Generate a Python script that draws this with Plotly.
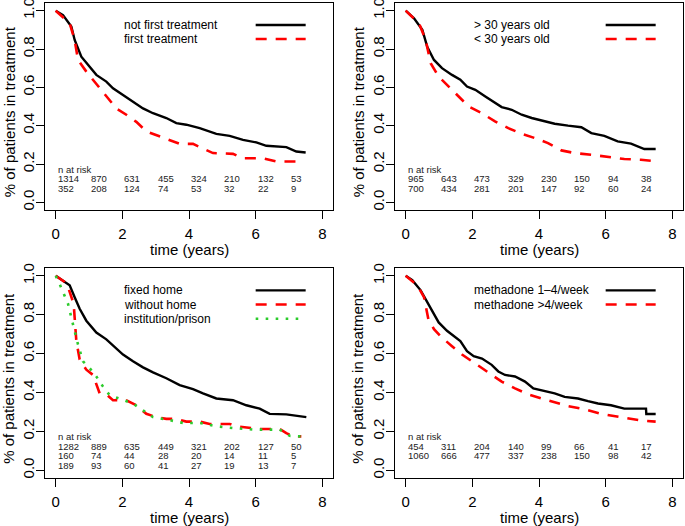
import plotly.graph_objects as go

# ---------------- data ----------------
risk_times = [0, 1, 2, 3, 4, 5, 6, 7]

# Panel 1: first treatment
p1_not_first_t = [0, 0.22, 0.47, 0.57, 0.77, 1.02, 1.22, 1.52, 1.72, 2.02, 2.32, 2.62, 2.92, 3.32,
                  3.62, 3.92, 4.32, 4.82, 5.22, 5.62, 6.02, 6.32, 6.92, 7.22, 7.5]
p1_not_first_s = [1.0, 0.977, 0.917, 0.847, 0.76, 0.71, 0.665, 0.63, 0.595, 0.56, 0.526, 0.49, 0.465,
                  0.44, 0.413, 0.405, 0.387, 0.357, 0.347, 0.326, 0.3125, 0.295, 0.288, 0.265, 0.26]
p1_first_t = [0, 0.42, 0.57, 0.67, 0.92, 1.22, 1.52, 1.82, 2.12, 2.42, 2.72, 3.12, 3.42, 3.72, 4.12,
              4.42, 4.72, 5.32, 5.62, 6.22, 6.62, 7.22]
p1_first_s = [1.0, 0.934, 0.847, 0.743, 0.682, 0.62, 0.552, 0.49, 0.457, 0.42, 0.37, 0.344, 0.326,
              0.305, 0.305, 0.283, 0.257, 0.253, 0.23, 0.23, 0.213, 0.213]
p1_risk_not_first = [1314, 870, 631, 455, 324, 210, 132, 53]
p1_risk_first = [352, 208, 124, 74, 53, 32, 22, 9]

# Panel 2: age
p2_over30_t = [0, 0.25, 0.5, 0.65, 0.85, 1.09, 1.39, 1.64, 1.84, 2.09, 2.39, 2.68, 2.88, 3.18, 3.48,
               3.78, 4.08, 4.47, 4.87, 5.27, 5.57, 5.96, 6.36, 6.76, 7.16, 7.5]
p2_over30_s = [1.0, 0.96, 0.9, 0.81, 0.743, 0.70, 0.665, 0.64, 0.604, 0.587, 0.552, 0.517, 0.497,
               0.483, 0.457, 0.44, 0.427, 0.41, 0.4, 0.392, 0.361, 0.347, 0.318, 0.306, 0.278, 0.278]
p2_under30_t = [0, 0.4, 0.6, 0.75, 0.99, 1.29, 1.59, 1.89, 2.29, 2.68, 3.08, 3.48, 3.88, 4.27, 4.67,
                5.07, 5.57, 6.06, 6.56, 7.06, 7.5]
p2_under30_s = [1.0, 0.934, 0.847, 0.726, 0.656, 0.604, 0.552, 0.5, 0.465, 0.422, 0.387, 0.358,
                0.335, 0.309, 0.271, 0.257, 0.248, 0.236, 0.226, 0.222, 0.214]
p2_risk_over30 = [965, 643, 473, 329, 230, 150, 94, 38]
p2_risk_under30 = [700, 434, 281, 201, 147, 92, 60, 24]

# Panel 3: housing
p3_fixed_t = [0, 0.42, 0.57, 0.72, 0.92, 1.22, 1.52, 1.77, 2.02, 2.32, 2.62, 2.92, 3.32, 3.72, 4.12,
              4.42, 4.82, 5.32, 5.72, 6.12, 6.42, 6.92, 7.32, 7.52]
p3_fixed_s = [1.0, 0.951, 0.89, 0.83, 0.769, 0.708, 0.673, 0.633, 0.595, 0.56, 0.529, 0.503, 0.473,
              0.438, 0.417, 0.395, 0.369, 0.36, 0.334, 0.317, 0.29, 0.287, 0.278, 0.273]
p3_nohome_t = [0, 0.27, 0.37, 0.54, 0.62, 0.72, 0.92, 1.12, 1.32, 1.52, 1.72, 2.12, 2.42, 2.72, 3.02,
               3.32, 3.62, 3.92, 4.32, 4.62, 5.22, 5.42, 6.12, 6.72, 6.92, 7.12, 7.37]
p3_nohome_s = [1.0, 0.969, 0.943, 0.856, 0.664, 0.569, 0.517, 0.49, 0.395, 0.39, 0.36, 0.36, 0.334,
               0.29, 0.273, 0.264, 0.264, 0.25, 0.25, 0.238, 0.238, 0.226, 0.212, 0.212, 0.191,
               0.174, 0.174]
p3_inst_t = [0, 0.07, 0.22, 0.37, 0.52, 0.67, 0.82, 1.02, 1.22, 1.42, 1.62, 1.92, 2.32, 2.62, 2.92,
             3.32, 3.82, 4.32, 4.82, 5.32, 5.92, 6.72, 7.02, 7.37]
p3_inst_s = [1.0, 0.977, 0.917, 0.856, 0.75, 0.647, 0.56, 0.525, 0.482, 0.43, 0.386, 0.369, 0.343,
             0.308, 0.273, 0.261, 0.243, 0.243, 0.226, 0.217, 0.209, 0.209, 0.177, 0.174]
p3_risk_fixed = [1282, 889, 635, 449, 321, 202, 127, 50]
p3_risk_nohome = [160, 74, 44, 28, 20, 14, 11, 5]
p3_risk_inst = [189, 93, 60, 41, 27, 19, 13, 7]

# Panel 4: methadone frequency
p4_low_t = [0, 0.2, 0.45, 0.65, 0.8, 0.99, 1.24, 1.39, 1.64, 1.84, 2.04, 2.29, 2.58, 2.78, 2.98,
            3.28, 3.58, 3.83, 4.08, 4.47, 4.77, 5.17, 5.47, 5.77, 6.16, 6.56, 7.21, 7.22, 7.5]
p4_low_s = [1.0, 0.977, 0.925, 0.864, 0.812, 0.76, 0.717, 0.696, 0.664, 0.612, 0.586, 0.574, 0.542,
            0.508, 0.49, 0.482, 0.456, 0.421, 0.412, 0.395, 0.377, 0.369, 0.355, 0.343, 0.334,
            0.317, 0.317, 0.289, 0.289]
p4_high_t = [0, 0.35, 0.55, 0.68, 0.85, 1.09, 1.39, 1.69, 1.99, 2.29, 2.58, 2.88, 3.28, 3.68, 4.08,
             4.47, 4.87, 5.37, 5.86, 6.46, 7.06, 7.5]
p4_high_s = [1.0, 0.951, 0.89, 0.777, 0.725, 0.682, 0.638, 0.595, 0.56, 0.525, 0.49, 0.456, 0.421,
             0.39, 0.369, 0.351, 0.33, 0.313, 0.29, 0.273, 0.256, 0.25]
p4_risk_low = [454, 311, 204, 140, 99, 66, 41, 17]
p4_risk_high = [1060, 666, 477, 337, 238, 150, 98, 42]

x_ticks = [0, 2, 4, 6, 8]
y_ticks = [0.0, 0.2, 0.4, 0.6, 0.8, 1.0]
y_tick_text = ["0.0", "0.2", "0.4", "0.6", "0.8", "1.0"]

# ---------------- styling ----------------
W, H = 685, 526
FONT = "Liberation Sans, Arial, Helvetica, sans-serif"
BLACK = "#000000"
RED = "#ff0000"
GREEN = "#2ccb2c"
STY_SOLID = dict(color=BLACK, width=2.4)
STY_DASH = dict(color=RED, width=2.6, dash="11px,9px")
STY_DOT = dict(color=GREEN, width=2.6, dash="2.6px,7.4px")

# panel pixel boxes: (left, right, top, bottom)
boxes = [(45, 333, 3, 210), (395, 683, 3, 210), (45, 333, 268, 478), (395, 683, 268, 478)]

fig = go.Figure()

panels = [
    dict(curves=[(p1_not_first_t, p1_not_first_s, STY_SOLID, "not first treatment"),
                 (p1_first_t, p1_first_s, STY_DASH, "first treatment")],
         risks=[p1_risk_not_first, p1_risk_first]),
    dict(curves=[(p2_over30_t, p2_over30_s, STY_SOLID, "> 30 years old"),
                 (p2_under30_t, p2_under30_s, STY_DASH, "< 30 years old")],
         risks=[p2_risk_over30, p2_risk_under30]),
    dict(curves=[(p3_fixed_t, p3_fixed_s, STY_SOLID, "fixed home"),
                 (p3_nohome_t, p3_nohome_s, STY_DASH, "without home"),
                 (p3_inst_t, p3_inst_s, STY_DOT, "institution/prison")],
         risks=[p3_risk_fixed, p3_risk_nohome, p3_risk_inst]),
    dict(curves=[(p4_low_t, p4_low_s, STY_SOLID, "methadone 1\u20134/week"),
                 (p4_high_t, p4_high_s, STY_DASH, "methadone >4/week")],
         risks=[p4_risk_low, p4_risk_high]),
]

annotations = []
legend_y = [0.925, 0.852, 0.779]
risk_y0 = 0.172
risk_dy = 0.049

for i, (panel, box) in enumerate(zip(panels, boxes)):
    n = i + 1
    xa = "x" if n == 1 else f"x{n}"
    ya = "y" if n == 1 else f"y{n}"
    l, r, t, b = box
    axis_common = dict(showline=True, mirror=True, linecolor=BLACK, linewidth=1,
                       ticks="outside", ticklen=8, tickwidth=1, tickcolor=BLACK,
                       showgrid=False, zeroline=False, automargin=False,
                       ticklabeloverflow="allow",
                       tickfont=dict(family=FONT, size=15, color=BLACK))
    fig.update_layout(**{
        ("xaxis" if n == 1 else f"xaxis{n}"): dict(
            domain=[l / W, r / W], range=[-0.32, 8.32], anchor=ya,
            tickvals=x_ticks, ticklabelstandoff=2, **axis_common),
        ("yaxis" if n == 1 else f"yaxis{n}"): dict(
            domain=[1 - b / H, 1 - t / H], range=[-0.04, 1.04], anchor=xa,
            tickvals=y_ticks, ticktext=y_tick_text, tickangle=-90, ticklabelstandoff=-4,
            **axis_common),
    })
    for j, (tt, ss, sty, name) in enumerate(panel["curves"]):
        fig.add_trace(go.Scatter(x=tt, y=ss, mode="lines", line=sty, xaxis=xa, yaxis=ya,
                                 showlegend=False, hoverinfo="skip"))
        # legend sample line
        fig.add_trace(go.Scatter(x=[6.0, 7.5], y=[legend_y[j], legend_y[j]], mode="lines",
                                 line=sty, xaxis=xa, yaxis=ya, showlegend=False,
                                 hoverinfo="skip"))
        annotations.append(dict(x=2.0, y=legend_y[j], xref=xa, yref=ya, text=name,
                                showarrow=False, xanchor="left", yanchor="middle",
                                font=dict(family=FONT, size=12, color=BLACK)))
    # number at risk table
    annotations.append(dict(x=0, y=risk_y0, xref=xa, yref=ya, text="n at risk",
                            showarrow=False, xanchor="left", yanchor="middle",
                            font=dict(family=FONT, size=9.5, color="#222")))
    for k, row in enumerate(panel["risks"]):
        for tx, v in zip(risk_times, row):
            annotations.append(dict(x=tx, y=risk_y0 - risk_dy * (k + 1), xref=xa, yref=ya,
                                    text=str(v), showarrow=False, xanchor="left",
                                    yanchor="middle",
                                    font=dict(family=FONT, size=9.5, color="#222")))
    # axis titles
    x_title_y = 249 if t < 100 else 517
    annotations.append(dict(x=4, y=1 - x_title_y / H, xref=xa, yref="paper",
                            text="time (years)", showarrow=False, xanchor="center",
                            yanchor="middle", font=dict(family=FONT, size=15, color=BLACK)))
    y_title_x = 9 if l < 100 else 358
    annotations.append(dict(x=y_title_x / W, y=0.47, xref="paper", yref=ya,
                            text="% of patients in treatment", showarrow=False,
                            textangle=-90, xanchor="center", yanchor="middle",
                            font=dict(family=FONT, size=15, color=BLACK)))

fig.update_layout(width=W, height=H, margin=dict(l=0, r=0, t=0, b=0),
                  paper_bgcolor="white", plot_bgcolor="white",
                  annotations=annotations, showlegend=False)

fig.write_html("out.html", config={"displayModeBar": False},
               post_script="document.body.style.margin='0';document.body.style.overflow='hidden';")
